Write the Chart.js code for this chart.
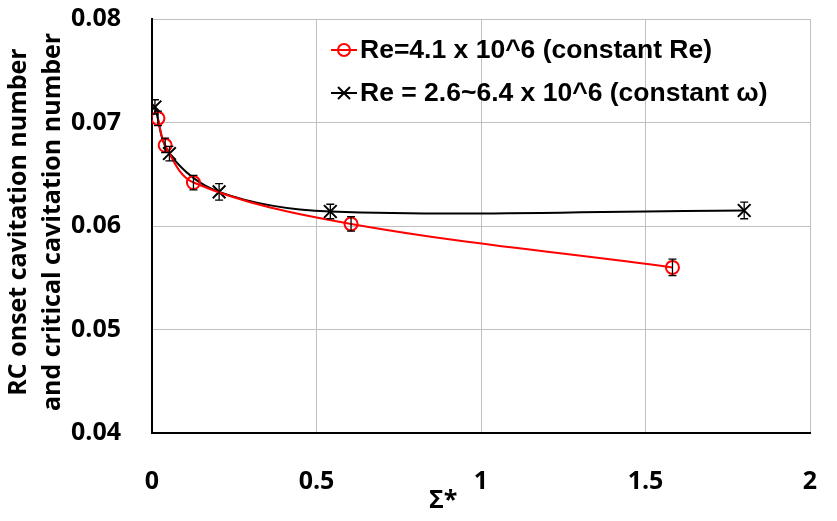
<!DOCTYPE html>
<html>
<head>
<meta charset="utf-8">
<script src="https://cdn.jsdelivr.net/npm/chart.js@4/dist/chart.umd.min.js"></script>
<style>
  html, body { margin: 0; padding: 0; background: #fff; }
  #wrap { width: 837px; height: 521px; }
</style>
</head>
<body>
<div id="wrap"><canvas id="grafico"></canvas></div>
<script>
// dados
const sigmaRe = [0.018, 0.040, 0.126, 0.605, 1.582];
const cavRe = [0.0704, 0.0678, 0.0642, 0.0602, 0.0560];
const errRe = [0.0007, 0.0007, 0.0007, 0.0007, 0.0008];

const sigmaOmega = [0.009, 0.053, 0.204, 0.542, 1.800];
const cavOmega = [0.0715, 0.0670, 0.0633, 0.0614, 0.0615];
const errOmega = [0.0007, 0.0007, 0.0008, 0.0007, 0.0008];

const labelRe = 'Re=4.1 x 10^6 (constant Re)';
const labelOmega = 'Re = 2.6~6.4 x 10^6 (constant \u03c9)';
const yTitle = ['RC onset cavitation number', 'and critical cavitation number'];
const xTitle = '\u03a3*';

const tickFont = { family: 'Open Sans', size: 25, weight: 'bold' };

// barras de erro + legenda + títulos
const extras = {
  id: 'extras',
  afterDatasetsDraw(chart) {
    const c = chart.ctx;
    const x = chart.scales.x, y = chart.scales.y;
    c.save();
    c.strokeStyle = '#000';
    c.lineWidth = 1.3;
    const errs = [errRe, errOmega];
    chart.data.datasets.forEach((ds, i) => {
      ds.data.forEach((p, j) => {
        const px = x.getPixelForValue(p.x);
        const y1 = y.getPixelForValue(p.y + errs[i][j]);
        const y2 = y.getPixelForValue(p.y - errs[i][j]);
        c.beginPath();
        c.moveTo(px, y1); c.lineTo(px, y2);
        c.moveTo(px - 4, y1); c.lineTo(px + 4, y1);
        c.moveTo(px - 4, y2); c.lineTo(px + 4, y2);
        c.stroke();
      });
    });
    c.restore();
  },
  afterDraw(chart) {
    const c = chart.ctx;
    const area = chart.chartArea;
    c.save();
    // legenda
    c.font = 'bold 26.5px "Liberation Sans", Arial, sans-serif';
    c.textBaseline = 'middle';
    c.textAlign = 'left';
    chart.data.datasets.forEach((ds, i) => {
      const ly = 50 + i * 43;
      const lx = 331;
      c.strokeStyle = ds.borderColor;
      c.lineWidth = 2;
      c.beginPath(); c.moveTo(lx, ly); c.lineTo(lx + 26, ly); c.stroke();
      c.beginPath();
      if (i === 0) {
        c.arc(lx + 13, ly, 6, 0, Math.PI * 2);
      } else {
        c.moveTo(lx + 7, ly - 6); c.lineTo(lx + 19, ly + 6);
        c.moveTo(lx + 7, ly + 6); c.lineTo(lx + 19, ly - 6);
      }
      c.stroke();
      c.fillStyle = '#000';
      c.fillText(ds.label, lx + 29, ly + 1);
    });
    // título do eixo y
    c.font = 'bold 25px "Open Sans", sans-serif';
    c.textAlign = 'center';
    c.textBaseline = 'middle';
    c.translate(19, (area.top + area.bottom) / 2 - 4);
    c.rotate(-Math.PI / 2);
    yTitle.forEach((t, i) => c.fillText(t, 0, i * 34));
    c.restore();
    // título do eixo x
    c.save();
    c.font = 'bold 25px "Open Sans", sans-serif';
    c.fillStyle = '#000';
    c.textAlign = 'center';
    c.textBaseline = 'middle';
    c.fillText(xTitle, chart.scales.x.getPixelForValue(0.885), 501);
    c.restore();
  }
};

const ctx = document.getElementById('grafico');
new Chart(ctx, {
  type: 'line',
  data: {
    datasets: [{
      label: labelRe,
      data: sigmaRe.map((v, i) => ({ x: v, y: cavRe[i] })),
      borderColor: '#ff0000',
      backgroundColor: 'rgba(0,0,0,0)',
      borderWidth: 2,
      pointStyle: 'circle',
      pointRadius: 6.5,
      pointBorderWidth: 2,
      pointBorderColor: '#ff0000',
      pointBackgroundColor: 'rgba(0,0,0,0)',
      tension: 0.35
    }, {
      label: labelOmega,
      data: sigmaOmega.map((v, i) => ({ x: v, y: cavOmega[i] })),
      borderColor: '#000000',
      backgroundColor: 'rgba(0,0,0,0)',
      borderWidth: 2,
      pointStyle: 'crossRot',
      pointRadius: 9,
      pointBorderWidth: 2,
      pointBorderColor: '#000000',
      tension: 0.35
    }]
  },
  options: {
    responsive: true,
    maintainAspectRatio: false,
    animation: false,
    layout: { padding: { top: 19, right: 27, left: 0, bottom: 0 } },
    plugins: {
      legend: { display: false },
      tooltip: { enabled: false }
    },
    scales: {
      x: {
        type: 'linear',
        min: 0,
        max: 2,
        ticks: {
          stepSize: 0.5,
          color: '#000',
          font: tickFont,
          padding: 34,
          maxRotation: 0,
          callback: v => String(v)
        },
        grid: { color: '#c0c0c0', lineWidth: 1, drawTicks: false },
        border: { color: '#000', width: 2 },
        afterFit(scale) {
          scale.height = 88;
          scale.paddingLeft = 0;
          scale.paddingRight = 0;
        }
      },
      y: {
        min: 0.04,
        max: 0.08,
        ticks: {
          stepSize: 0.01,
          color: '#000',
          font: tickFont,
          padding: 31,
          callback: v => v.toFixed(2)
        },
        grid: { color: '#c0c0c0', lineWidth: 1, drawTicks: false },
        border: { color: '#000', width: 2 },
        afterFit(scale) {
          scale.width = 152;
          scale.paddingTop = 0;
          scale.paddingBottom = 0;
        }
      }
    }
  },
  plugins: [extras]
});
</script>
</body>
</html>
